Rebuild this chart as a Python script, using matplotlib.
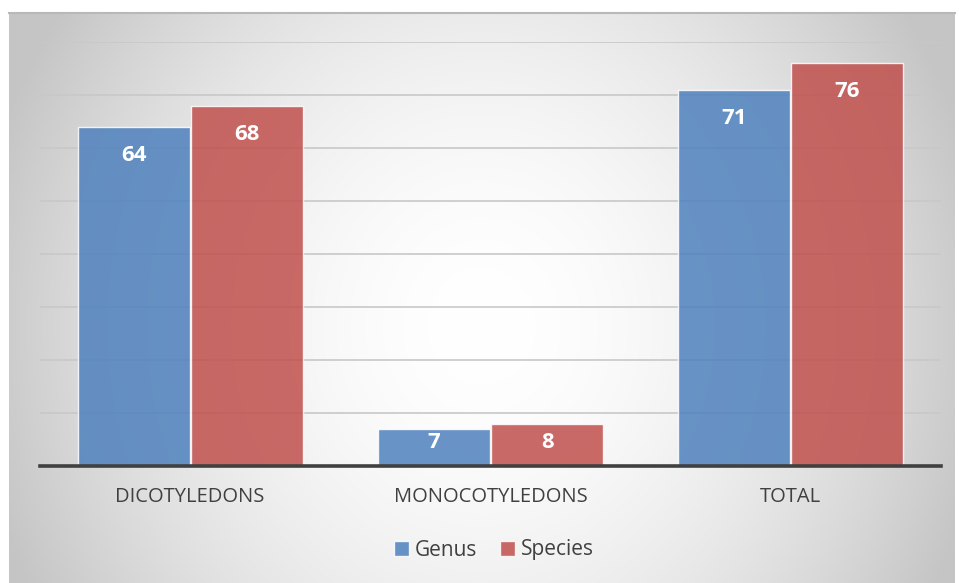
import numpy as np
import matplotlib
matplotlib.use("Agg")
import matplotlib.pyplot as plt
from matplotlib.patches import Patch

categories = ["DICOTYLEDONS", "MONOCOTYLEDONS", "TOTAL"]
genus = [64, 7, 71]
species = [68, 8, 76]
series_names = ["Genus", "Species"]

plt.rcParams['font.family'] = ['Open Sans', 'DejaVu Sans']

W, H = 959, 583
fig = plt.figure(figsize=(W / 100, H / 100), dpi=100)
fig.patch.set_facecolor('white')

# gradient background of the chart box (white centre, grey edges)
bx0, bx1, by0, by1 = 9, 955, 13, 583
bg = fig.add_axes([bx0 / W, 1 - by1 / H, (bx1 - bx0) / W, (by1 - by0) / H])
nx, ny = 400, 250
xx, yy = np.meshgrid(np.linspace(-1, 1, nx), np.linspace(-1, 1, ny))
r = np.sqrt(xx ** 2 + 0.3 * (yy - 0.1) ** 2)
drop = np.clip(50 * r ** 1.8, 0, 58) / 255.0
grey = 1.0 - drop
img = np.dstack([grey, grey, grey])
bg.imshow(img, aspect='auto', extent=[0, 1, 0, 1], origin='upper')
bg.set_xlim(0, 1)
bg.set_ylim(0, 1)
bg.axis('off')
bg.plot([0, 1], [1, 1], color='#b8b8b8', lw=1.5, transform=bg.transAxes, clip_on=False)

# main plot area
ax = fig.add_axes([40 / W, 1 - 466 / H, (941 - 40) / W, (466 - 42) / H])
ax.patch.set_alpha(0)
x = np.arange(len(categories))
w = 0.373
ax.set_axisbelow(True)
ax.yaxis.grid(True, color='#c8c8c8', lw=1.2)
b1 = ax.bar(x - w / 2 - 0.002, genus, w, color='#4F81BD', alpha=0.85,
            edgecolor=(1, 1, 1, 0.35), lw=1, zorder=3)
b2 = ax.bar(x + w / 2 + 0.002, species, w, color='#C0504D', alpha=0.85,
            edgecolor=(1, 1, 1, 0.35), lw=1, zorder=3)

for bars, vals in ((b1, genus), (b2, species)):
    for rect, v in zip(bars, vals):
        ax.text(rect.get_x() + rect.get_width() / 2, max(v - 5.4, 4.4), str(v),
                ha='center', va='center', color='white', fontsize=16,
                fontweight='bold', zorder=5)

ax.set_xlim(-0.5, 2.5)
ax.set_ylim(0, 80)
ax.set_yticks(np.arange(0, 81, 10))
ax.set_yticklabels([])
ax.set_xticks(x)
ax.set_xticklabels(categories, fontsize=14.5, color='#404040')
ax.tick_params(axis='both', length=0)
ax.tick_params(axis='x', pad=15)
for s in ['top', 'left', 'right']:
    ax.spines[s].set_visible(False)
ax.spines['bottom'].set_color('#404040')
ax.spines['bottom'].set_linewidth(2.6)
ax.spines['bottom'].set_zorder(6)

handles = [Patch(facecolor='#4F81BD', alpha=0.85, edgecolor=(1, 1, 1, 0.35)),
           Patch(facecolor='#C0504D', alpha=0.85, edgecolor=(1, 1, 1, 0.35))]
fig.legend(handles, series_names, loc='center', bbox_to_anchor=(494 / W, 1 - 550 / H),
           ncol=2, frameon=False, fontsize=15, handlelength=0.7, handleheight=0.7,
           handletextpad=0.3, columnspacing=1.1, labelcolor='#404040')

fig.savefig('out.png', dpi=100, facecolor='white')
